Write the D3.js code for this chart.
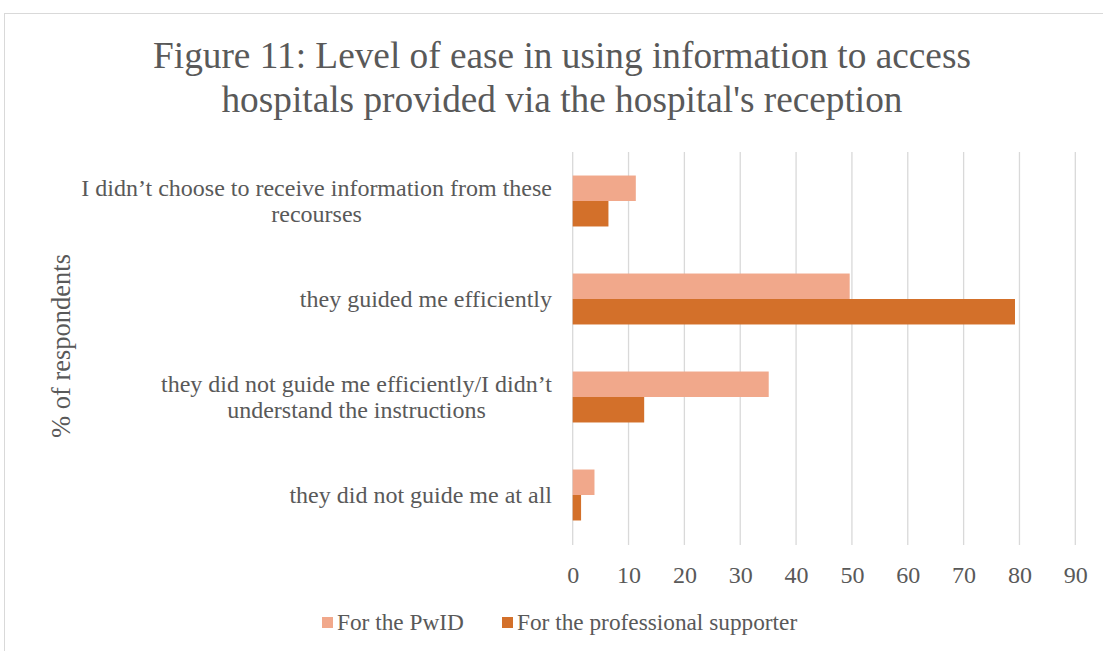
<!DOCTYPE html>
<html>
<head>
<meta charset="utf-8">
<script src="https://cdnjs.cloudflare.com/ajax/libs/d3/7.8.5/d3.min.js"></script>
<style>
  body { margin: 0; background: #fff; }
  text { font-family: "Liberation Serif", "Times New Roman", serif; fill: #595959; }
</style>
</head>
<body>
<svg id="canvas" width="1103" height="651"></svg>
<script>
let categories = [
  ['I didn\u2019t choose to receive information from these', 'recourses'],
  ['they guided me efficiently'],
  ['they did not guide me efficiently/I didn\u2019t', 'understand the instructions'],
  ['they did not guide me at all']
]
let seriesNames = ['For the PwID', 'For the professional supporter']
let pwidValues = [11.3, 49.6, 35.1, 3.9]
let supporterValues = [6.4, 79.2, 12.8, 1.5]
let xTicks = [0, 10, 20, 30, 40, 50, 60, 70, 80, 90]
let colors = ['#F1A88B', '#D3702A']

let svg = d3.select('#canvas')

// chart frame
svg.append('rect')
  .attr('x', 4.5).attr('y', 13.5)
  .attr('width', 1110).attr('height', 660)
  .attr('fill', 'none').attr('stroke', '#d9d9d9')

svg.append('text')
  .attr('x', 562).attr('y', 68)
  .attr('text-anchor', 'middle')
  .style('font-size', '37.3px')
  .selectAll('tspan')
  .data(['Figure 11: Level of ease in using information to access', 'hospitals provided via the hospital\'s reception'])
  .enter()
  .append('tspan')
  .attr('x', 562)
  .attr('dy', (d, i) => i === 0 ? 0 : 43.5)
  .text(d => d)

let x = d3.scaleLinear().domain([0, 90]).range([572.7, 1075.3])
let idx = categories.map((c, i) => i)
let y = d3.scaleBand().domain(idx).range([152, 544]).paddingInner(0.48).paddingOuter(0.24)
let sub = d3.scaleBand().domain([0, 1]).range([0, y.bandwidth()])

// gridlines
svg.append('g')
  .selectAll('line')
  .data(xTicks)
  .enter()
  .append('line')
  .attr('x1', d => x(d)).attr('x2', d => x(d))
  .attr('y1', 152).attr('y2', 545)
  .attr('stroke', '#d9d9d9').attr('stroke-width', 1.3)

let groups = svg.append('g')
  .selectAll('g')
  .data(idx)
  .enter()
  .append('g')
  .attr('transform', d => 'translate(0,' + y(d) + ')')

groups.selectAll('rect')
  .data(d => [pwidValues[d], supporterValues[d]])
  .enter()
  .append('rect')
  .attr('x', x(0))
  .attr('y', (d, i) => sub(i))
  .attr('width', d => x(d) - x(0))
  .attr('height', sub.bandwidth())
  .attr('fill', (d, i) => colors[i])

// category labels, wrapped lines centred on each other, block right-aligned
let labelRight = 552
categories.forEach((lines, i) => {
  let cy = y(i) + y.bandwidth() / 2
  let t = svg.append('text').style('font-size', '24px').attr('text-anchor', 'middle')
  let spans = t.selectAll('tspan').data(lines).enter().append('tspan').text(d => d)
  let widths = []
  spans.each(function () { widths.push(this.getComputedTextLength()) })
  let maxW = d3.max(widths)
  let cx = labelRight - maxW / 2
  let lineH = 26.5
  let top = cy - (lines.length - 1) * lineH / 2 + 8
  spans.attr('x', cx).attr('y', (d, j) => top + j * lineH)
})

// x tick labels
let xAxis = d3.axisBottom(x).tickValues(xTicks).tickSize(0).tickPadding(0)
let ax = svg.append('g').attr('transform', 'translate(0,566)').call(xAxis)
ax.select('.domain').remove()
ax.selectAll('text')
  .style('font-size', '24px')
  .style('font-family', '"Liberation Serif", "Times New Roman", serif')
  .attr('fill', '#595959')
  .attr('dy', '0.71em')

// y axis title
svg.append('text')
  .attr('transform', 'translate(70,346) rotate(-90)')
  .attr('text-anchor', 'middle')
  .style('font-size', '26.5px')
  .text('% of respondents')

// legend
let legendX = [322, 502]
seriesNames.forEach((name, i) => {
  svg.append('rect')
    .attr('x', legendX[i]).attr('y', 617)
    .attr('width', 11).attr('height', 11)
    .attr('fill', colors[i])
  svg.append('text')
    .attr('x', legendX[i] + 15).attr('y', 630)
    .style('font-size', '23.3px')
    .text(name)
})
</script>
</body>
</html>
